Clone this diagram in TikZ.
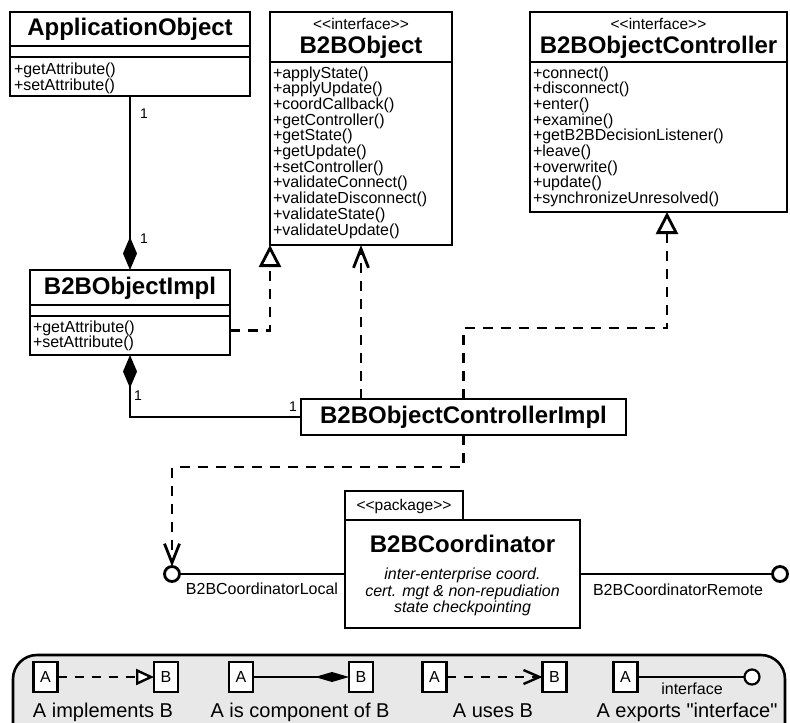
\documentclass[tikz,border=0pt]{standalone}
\usepackage{fontspec}
\setmainfont{Liberation Sans}
\usetikzlibrary{arrows.meta,calc}

\newcommand\umltitle{\fontsize{24}{28}\selectfont\bfseries}
\newcommand\umlstereo{\fontsize{15.5}{18}\selectfont}
\newcommand\umlmeth{\fontsize{16}{16}\selectfont}
\newcommand\umlsmall{\fontsize{16}{18}\selectfont}
\newcommand\umlmult{\fontsize{14}{16}\selectfont}
\newcommand\umllegend{\fontsize{20}{24}\selectfont}
\definecolor{legendfill}{gray}{0.91}

\begin{document}
\begin{tikzpicture}[x=1pt,y=-1pt,
  every node/.style={inner sep=0pt, outer sep=0pt},
  comp/.style={draw, line width=2.8pt, fill=white, anchor=north west},
  txt/.style={anchor=base},
  meth/.style={anchor=base west, font=\umlmeth},
  mult/.style={anchor=base west, font=\umlmult},
  link/.style={line width=2.8pt},
  dep/.style={line width=2.8pt, dash pattern=on 10pt off 8pt},
  realize/.style={arrows={-Triangle[open,length=22pt,width=22pt,fill=white]}},
  uses/.style={arrows={-Straight Barb[length=19pt,width=15pt]}},
  part/.style={arrows={Diamond[length=33pt,width=14pt]-}},
  iface/.style={draw, circle, line width=2.8pt, fill=white, minimum size=15pt},
  lbox/.style={draw, line width=2.2pt, fill=white, minimum width=24pt, minimum height=30pt, font=\umlsmall},
  lline/.style={line width=2pt},
  ldep/.style={line width=2.4pt, dash pattern=on 9pt off 8pt},
]
\useasboundingbox (0,0) rectangle (790,723);

% ---- ApplicationObject
\node[comp, minimum width=240pt, minimum height=34pt] (aobjT) at (10,12) {};
\node[comp, minimum width=240pt, minimum height=11pt] (aobjE) at (aobjT.south west) {};
\node[comp, minimum width=240pt, minimum height=39pt] (aobjM) at (aobjE.south west) {};
\node[txt, font=\umltitle] (aobjN) at (130,35) {ApplicationObject};
\node[meth] (aobj-0) at (14,74) {+getAttribute()};
\node[meth] (aobj-1) at (14,90) {+setAttribute()};

% ---- B2BObject interface
\node[comp, minimum width=182pt, minimum height=50pt] (bobjT) at (270,12) {};
\node[comp, minimum width=182pt, minimum height=183pt] (bobjM) at (bobjT.south west) {};
\node[txt, font=\umlstereo] (bobjS) at (361,29) {<{}<interface>{}>};
\node[txt, font=\umltitle] (bobjN) at (361,53) {B2BObject};
\foreach \m [count=\i from 0] in {applyState,applyUpdate,coordCallback,getController,getState,getUpdate,setController,validateConnect,validateDisconnect,validateState,validateUpdate}
  \node[meth] (bobj-\i) at (273,{78+15.7*\i}) {+\m()};

% ---- B2BObjectController interface
\node[comp, minimum width=257pt, minimum height=50pt] (ctrlT) at (530,12) {};
\node[comp, minimum width=257pt, minimum height=150pt] (ctrlM) at (ctrlT.south west) {};
\node[txt, font=\umlstereo] (ctrlS) at (658.5,29) {<{}<interface>{}>};
\node[txt, font=\umltitle] (ctrlN) at (658.5,53) {B2BObjectController};
\foreach \m [count=\i from 0] in {connect,disconnect,enter,examine,getB2BDecisionListener,leave,overwrite,update,synchronizeUnresolved}
  \node[meth] (ctrl-\i) at (533,{78+15.7*\i}) {+\m()};

% ---- B2BObjectImpl
\node[comp, minimum width=200pt, minimum height=35pt] (implT) at (30,270) {};
\node[comp, minimum width=200pt, minimum height=11pt] (implE) at (implT.south west) {};
\node[comp, minimum width=200pt, minimum height=39pt] (implM) at (implE.south west) {};
\node[txt, font=\umltitle] (implN) at (130,294) {B2BObjectImpl};
\node[meth] (impl-0) at (33,332) {+getAttribute()};
\node[meth] (impl-1) at (33,347) {+setAttribute()};

% ---- B2BObjectControllerImpl
\node[comp, minimum width=325pt, minimum height=36pt] (cimpl) at (301,399) {};
\node[txt, font=\umltitle] (cimplN) at (463.5,423) {B2BObjectControllerImpl};

% ---- B2BCoordinator package
\node[comp, minimum width=118pt, minimum height=29pt] (pkgT) at (345,491) {};
\node[comp, minimum width=235pt, minimum height=108pt] (pkgM) at (345,520) {};
\node[txt, font=\umlstereo] (pkgS) at (404,510) {<{}<package>{}>};
\node[txt, font=\umltitle] (pkgN) at (462.5,552) {B2BCoordinator};
\node[txt, font=\umlsmall\itshape] (pkgD1) at (462.5,579) {inter-enterprise coord.};
\node[txt, font=\umlsmall\itshape] (pkgD2) at (462.5,596) {cert. mgt \& non-repudiation};
\node[txt, font=\umlsmall\itshape] (pkgD3) at (462.5,612) {state checkpointing};

% ---- exported interfaces
\node[iface] (localI) at (172,574) {};
\node[iface] (remoteI) at (780,574) {};
\draw[link] (localI) -- (pkgM.west);
\draw[link] (pkgM.east) -- (remoteI);
\node[txt, font=\umlsmall] (localL) at (262,594) {B2BCoordinatorLocal};
\node[txt, font=\umlsmall] (remoteL) at (678,595) {B2BCoordinatorRemote};

% ---- compositions
\draw[link, part] (implT.north) -- (aobjM.south);
\draw[link, part] (implM.south) |- (cimpl.west);
\node[mult] (m1) at (140,118) {1};
\node[mult] (m2) at (140,243) {1};
\node[mult] (m3) at (134,400) {1};
\node[mult] (m4) at (289,411) {1};

% ---- realizations and dependencies
\coordinate (ctrlR) at ($(ctrlM.south west)+(137,0)$);
\draw[dep, realize] ([yshift=5pt]implM.east) -| (bobjM.south west);
\draw[dep, uses] (cimpl.north -| bobjM.south) -- (bobjM.south);
\draw[dep, realize] (cimpl.north) -- ++(0,-71) -| (ctrlR);
\draw[dep, uses] (cimpl.south) -- ++(0,32) -| (localI.north);

% ---- legend
\begin{scope}
  \clip (0,640) rectangle (790,723);
  \draw[line width=2.6pt, fill=legendfill, rounded corners=24pt] (13,655) rectangle (785,770);
\end{scope}
\node[lbox] (la1) at (45.5,677) {A};
\node[lbox] (lb1) at (166,677) {B};
\node[lbox] (la2) at (241,677) {A};
\node[lbox] (lb2) at (361,677) {B};
\node[lbox] (la3) at (434.5,677) {A};
\node[lbox] (lb3) at (554.5,677) {B};
\node[lbox] (la4) at (625.5,677) {A};
\node[iface, line width=2.2pt] (li4) at (752,677) {};
\draw[ldep, arrows={-Triangle[open,length=18pt,width=16pt,fill=white]}] (la1) -- (lb1);
\draw[lline, arrows={-Diamond[length=34pt,width=10pt]}] (la2) -- (lb2);
\draw[ldep, arrows={-Straight Barb[length=16pt,width=14pt]}] (la3) -- (lb3);
\draw[lline] (la4) -- (li4);
\node[txt, font=\umlsmall] (lint) at (692,694) {interface};
\node[txt, font=\umllegend] (lt1) at (103,717) {A implements B};
\node[txt, font=\umllegend] (lt2) at (300,717) {A is component of B};
\node[txt, font=\umllegend] (lt3) at (493,717) {A uses B};
\node[txt, font=\umllegend] (lt4) at (687,717) {A exports \textquotedbl interface\textquotedbl};
\end{tikzpicture}
\end{document}
